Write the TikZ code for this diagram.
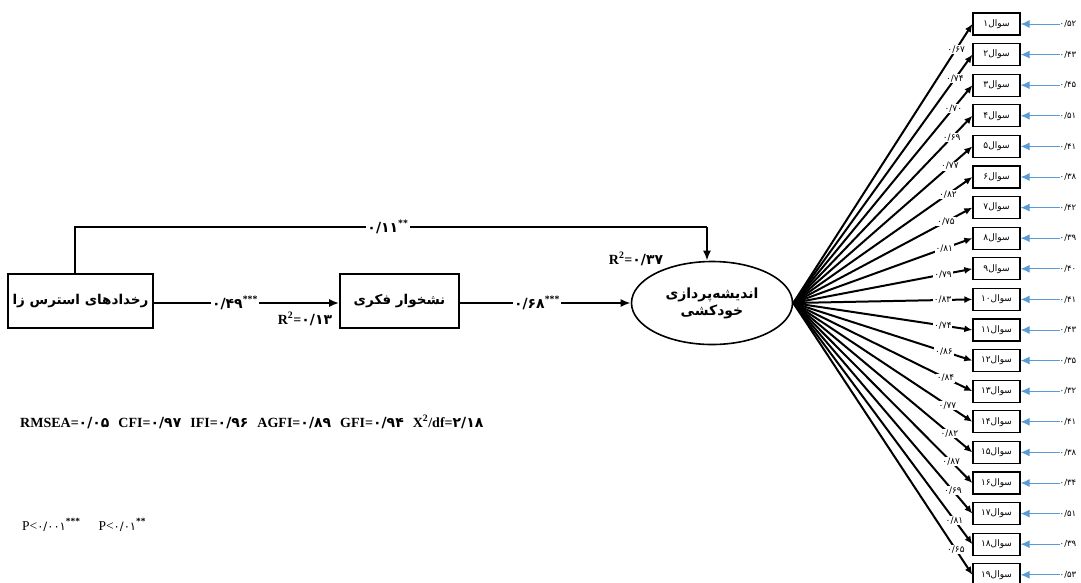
\documentclass[tikz,border=0pt]{standalone}
\usepackage{fontspec}
\setmainfont{Liberation Serif}
\newfontfamily\fa[Script=Arabic]{DejaVu Sans}
\TeXXeTstate=1
\usetikzlibrary{arrows.meta,shapes.geometric}
\definecolor{errblue}{RGB}{91,155,213}
\begin{document}
\begin{tikzpicture}[x=1pt,y=-1pt,
  mainbox/.style={draw,line width=1.6pt,minimum height=54pt,inner sep=0pt,
    font=\fa\bfseries\fontsize{13.5}{16}\selectfont},
  itembox/.style={draw,line width=1.3pt,minimum width=47pt,minimum height=22pt,inner sep=0pt,
    font=\fa\fontsize{9}{10}\selectfont},
  patharrow/.style={line width=2.2pt,-{Latex[length=10pt,width=8pt]}},
  loadarrow/.style={line width=2pt,-{Latex[length=8pt,width=7pt]}},
  errarrow/.style={draw=errblue,line width=1pt,-{Latex[length=9pt,width=8pt]},errblue},
  coef/.style={fill=white,inner sep=1.5pt,font=\fontsize{14}{16}\selectfont},
  ldlab/.style={fill=white,inner sep=0.8pt,font=\fa\fontsize{9}{10}\selectfont},
  evlab/.style={inner sep=0pt,font=\fa\fontsize{8.5}{9}\selectfont},
  rlab/.style={inner sep=0pt,font=\bfseries\fontsize{14}{16}\selectfont}]
\useasboundingbox (0,0) rectangle (1081,582);

% main variables
\node[mainbox,minimum width=145pt] (stress) at (80.5,301) {\beginR رخدادهای استرس زا\endR};
\node[mainbox,minimum width=119pt] (rum) at (399.5,301) {\beginR نشخوار فکری\endR};
\node[draw,ellipse,line width=1.6pt,minimum width=161pt,minimum height=83pt,inner sep=0pt,
      align=center,font=\fa\bfseries\fontsize{14}{17}\selectfont] (sui) at (712,303)
      {\beginR اندیشه‌پردازی\endR\\\beginR خودکشی\endR};

% structural paths
\coordinate (topL) at (75,227);
\coordinate (topR) at (707,227);
\draw[line width=2.2pt] (stress.north -| topL) -- (topL) -- (topR);
\draw[patharrow] (topR) -- (sui.north -| topR);
\draw[patharrow] (stress.east |- 0,303) -- (rum.west |- 0,303);
\draw[patharrow] (rum.east |- 0,303) -- (sui.west);

\node[coef] (c11) at (388,227) {{\fa\bfseries ۰/۱۱}\textsuperscript{\bfseries **}};
\node[coef] (c49) at (235,303) {{\fa\bfseries ۰/۴۹}\textsuperscript{\bfseries ***}};
\node[coef] (c68) at (537,303) {{\fa\bfseries ۰/۶۸}\textsuperscript{\bfseries ***}};

\node[rlab] (r13) at (305,319) {R\textsuperscript{2}={\fa\bfseries ۰/۱۳}};
\node[rlab] (r37) at (636,259) {R\textsuperscript{2}={\fa\bfseries ۰/۳۷}};

% fit indices
\node[anchor=west,inner sep=0pt,font=\bfseries\fontsize{14}{16}\selectfont] (fit) at (20,422)
  {RMSEA={\fa ۰/۰۵}\hspace{9pt}CFI={\fa ۰/۹۷}\hspace{9pt}IFI={\fa ۰/۹۶}\hspace{9pt}AGFI={\fa ۰/۸۹}\hspace{9pt}GFI={\fa ۰/۹۴}\hspace{9pt}X\textsuperscript{2}/df={\fa ۲/۱۸}};
\node[anchor=west,inner sep=0pt,font=\fontsize{13.5}{15}\selectfont] (pv) at (22,525)
  {P<{\fa\fontsize{11.5}{13}\selectfont ۰/۰۰۱}\textsuperscript{\bfseries ***}\hspace{18pt}P<{\fa\fontsize{11.5}{13}\selectfont ۰/۰۱}\textsuperscript{\bfseries **}};

% items
\foreach \d/\ld/\er [count=\k] in {۱/۶۷/۵۲,۲/۷۴/۴۳,۳/۷۰/۴۵,۴/۶۹/۵۱,۵/۷۷/۴۱,۶/۸۲/۳۸,۷/۷۵/۴۲,۸/۸۱/۳۹,۹/۷۹/۴۰,۱۰/۸۳/۴۱,۱۱/۷۴/۴۳,۱۲/۸۶/۳۵,۱۳/۸۴/۳۲,۱۴/۷۷/۴۱,۱۵/۸۲/۳۸,۱۶/۸۷/۳۴,۱۷/۶۹/۵۱,۱۸/۸۱/۳۹,۱۹/۶۵/۵۳}{
  \pgfmathsetmacro\yy{24+(\k-1)*30.6}
  \node[itembox] (q\k) at (996.5,\yy) {\hbox{\d}\hbox{سوال}};
  \node[evlab] (ev\k) at (1068,\yy) {۰/\er};
  \draw[errarrow] (ev\k.west) -- (q\k.east);
  \draw[loadarrow] (sui.east) -- (q\k.west);
}
\foreach \d/\ld/\er [count=\k] in {۱/۶۷/۵۲,۲/۷۴/۴۳,۳/۷۰/۴۵,۴/۶۹/۵۱,۵/۷۷/۴۱,۶/۸۲/۳۸,۷/۷۵/۴۲,۸/۸۱/۳۹,۹/۷۹/۴۰,۱۰/۸۳/۴۱,۱۱/۷۴/۴۳,۱۲/۸۶/۳۵,۱۳/۸۴/۳۲,۱۴/۷۷/۴۱,۱۵/۸۲/۳۸,۱۶/۸۷/۳۴,۱۷/۶۹/۵۱,۱۸/۸۱/۳۹,۱۹/۶۵/۵۳}{
  \pgfmathsetmacro\yy{24+(\k-1)*30.6}
  \pgfmathsetmacro\pp{1-30/veclen(180,\yy-303)}
  \path (sui.east) -- (q\k.west) node[ldlab,pos=\pp] (l\k) {۰/\ld};
}
\end{tikzpicture}
\end{document}
